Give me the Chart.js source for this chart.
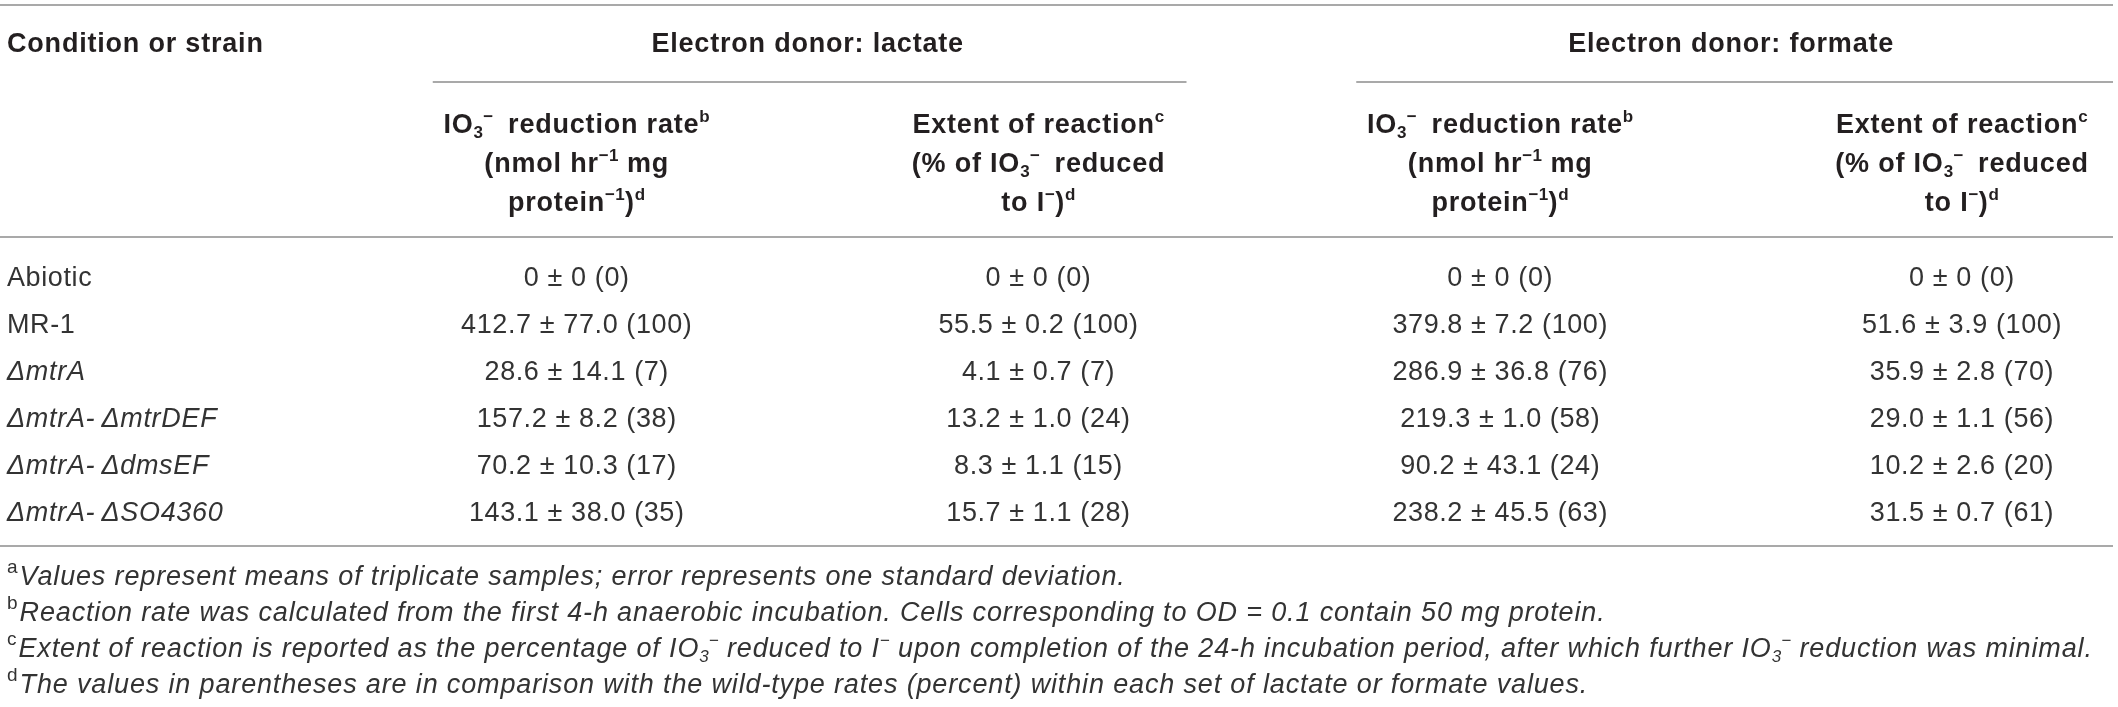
<!DOCTYPE html>
<html>
<head>
<meta charset="utf-8">
<script src="https://cdn.jsdelivr.net/npm/chart.js@4.4.1/dist/chart.umd.min.js"></script>
<style>
html,body{margin:0;padding:0;background:#fff;}
#wrap{width:2118px;height:707px;position:relative;}
</style>
</head>
<body>
<div id="wrap"><canvas id="tableChart"></canvas></div>
<script>
// rows of the table (strains), top to bottom
var strains = ['Abiotic', 'MR-1', '\u0394mtrA', '\u0394mtrA-\u2009\u0394mtrDEF', '\u0394mtrA-\u2009\u0394dmsEF', '\u0394mtrA-\u2009\u0394SO4360'];
var strainItalic = [false, false, true, true, true, true];

// column keys: first one holds the strain names
var columns = ['strain', 'lactateRate', 'lactateExtent', 'formateRate', 'formateExtent'];
var donors = ['Electron donor: lactate', 'Electron donor: formate'];

// lactate
var lactateRate = [0, 412.7, 28.6, 157.2, 70.2, 143.1];
var lactateRateSd = [0, 77.0, 14.1, 8.2, 10.3, 38.0];
var lactateRatePct = [0, 100, 7, 38, 17, 35];
var lactateExtent = [0, 55.5, 4.1, 13.2, 8.3, 15.7];
var lactateExtentSd = [0, 0.2, 0.7, 1.0, 1.1, 1.1];
var lactateExtentPct = [0, 100, 7, 24, 15, 28];

// formate
var formateRate = [0, 379.8, 286.9, 219.3, 90.2, 238.2];
var formateRateSd = [0, 7.2, 36.8, 1.0, 43.1, 45.5];
var formateRatePct = [0, 100, 76, 58, 24, 63];
var formateExtent = [0, 51.6, 35.9, 29.0, 10.2, 31.5];
var formateExtentSd = [0, 3.9, 2.8, 1.1, 2.6, 0.7];
var formateExtentPct = [0, 100, 70, 56, 20, 61];

// header text, one array of segments per line
var rateHeader = [
	[['IO', 'hb'], ['3', 'hsub'], ['\u2212', 'hsup'], ['\u2009 reduction rate', 'hb'], ['b', 'hsup']],
	[['(nmol hr', 'hb'], ['\u22121', 'hsup'], [' mg', 'hb']],
	[['protein', 'hb'], ['\u22121', 'hsup'], [')', 'hb'], ['d', 'hsup']]
];
var extentHeader = [
	[['Extent of reaction', 'hb'], ['c', 'hsup']],
	[['(% of IO', 'hb'], ['3', 'hsub'], ['\u2212', 'hsup'], ['\u2009 reduced', 'hb']],
	[['to I', 'hb'], ['\u2212', 'hsup'], [')', 'hb'], ['d', 'hsup']]
];

var footnotes = [
	[['a', 'nsup'], ['Values represent means of triplicate samples; error represents one standard deviation.', 'fi']],
	[['b', 'nsup'], ['Reaction rate was calculated from the first 4-h anaerobic incubation. Cells corresponding to OD = 0.1 contain 50 mg protein.', 'fi']],
	[['c', 'nsup'], ['Extent of reaction is reported as the percentage of IO', 'fi'], ['3', 'isub'], ['\u2212', 'isup'], [' reduced to I', 'fi'], ['\u2212', 'isup'],
		[' upon completion of the 24-h incubation period, after which further IO', 'fi'], ['3', 'isub'], ['\u2212', 'isup'], [' reduction was minimal.', 'fi']],
	[['d', 'nsup'], ['The values in parentheses are in comparison with the wild-type rates (percent) within each set of lactate or formate values.', 'fi']]
];

var FAMILY = '"Liberation Sans", Arial, Helvetica, sans-serif';
var styles = {
	hb:   {font: 'bold 27px ', dy: 0, sp: '0.8px'},
	hsup: {font: 'bold 17px ', dy: -11, sp: '0.3px'},
	hsub: {font: 'bold 17px ', dy: 5, sp: '0.3px'},
	n:    {font: '27px ', dy: 0, sp: '0.6px'},
	i:    {font: 'italic 27px ', dy: 0, sp: '0.7px'},
	fi:   {font: 'italic 27px ', dy: 0, sp: '0.85px'},
	nsup: {font: '19px ', dy: -12, sp: '0px'},
	isup: {font: 'italic 17px ', dy: -11, sp: '0px'},
	isub: {font: 'italic 17px ', dy: 5, sp: '0px'}
};

function fmt(v){
	return v === 0 ? '0' : v.toFixed(1);
}
function cellText(mean, sd, pct){
	return fmt(mean) + ' \u00b1 ' + fmt(sd) + ' (' + pct + ')';
}
function cells(means, sds, pcts){
	return means.map(function(m, i){ return cellText(m, sds[i], pcts[i]); });
}

function setStyle(ctx, kind){
	var s = styles[kind];
	ctx.font = s.font + FAMILY;
	ctx.letterSpacing = s.sp;
	return s;
}
function segWidth(ctx, segs){
	var w = 0;
	segs.forEach(function(seg){
		setStyle(ctx, seg[1]);
		w += ctx.measureText(seg[0]).width;
	});
	return w;
}
function drawSegs(ctx, segs, x, y, align){
	if (align === 'center') x -= segWidth(ctx, segs) / 2;
	segs.forEach(function(seg){
		var s = setStyle(ctx, seg[1]);
		ctx.fillText(seg[0], x, y + s.dy);
		x += ctx.measureText(seg[0]).width;
	});
}

var cellColumns = {
	lactateRate: cells(lactateRate, lactateRateSd, lactateRatePct),
	lactateExtent: cells(lactateExtent, lactateExtentSd, lactateExtentPct),
	formateRate: cells(formateRate, formateRateSd, formateRatePct),
	formateExtent: cells(formateExtent, formateExtentSd, formateExtentPct)
};

var datasets = columns.slice(1).map(function(key){
	return {
		label: key,
		data: strains.map(function(s){ return {x: key, y: s}; }),
		cells: cellColumns[key],
		pointRadius: 0,
		showLine: false
	};
});

var tablePlugin = {
	id: 'tablePlugin',
	afterDatasetsDraw: function(chart){
		var ctx = chart.ctx;
		var xs = chart.scales.x, ys = chart.scales.y;
		var right = chart.width - 5;
		var cx = columns.map(function(c, i){ return xs.getPixelForValue(i); });
		var capOff = 10;

		ctx.save();
		ctx.textAlign = 'left';
		ctx.textBaseline = 'alphabetic';

		// rules
		ctx.strokeStyle = '#8c8c8c';
		ctx.lineWidth = 1.5;
		function rule(x0, x1, y){
			ctx.beginPath();
			ctx.moveTo(x0, y);
			ctx.lineTo(x1, y);
			ctx.stroke();
		}
		rule(0, right, 5);
		rule(cx[1] - 144, cx[2] + 148, 82);
		rule(cx[3] - 144, Math.min(cx[4] + 151, right), 82);
		rule(0, right, 237);
		rule(0, right, 546);

		// header
		ctx.fillStyle = '#231f20';
		drawSegs(ctx, [['Condition or strain', 'hb']], 7, 52, 'left');
		drawSegs(ctx, [[donors[0], 'hb']], (cx[1] + cx[2]) / 2, 52, 'center');
		drawSegs(ctx, [[donors[1], 'hb']], (cx[3] + cx[4]) / 2, 52, 'center');
		[1, 2, 3, 4].forEach(function(c){
			var lines = (c % 2 === 1) ? rateHeader : extentHeader;
			lines.forEach(function(line, k){
				drawSegs(ctx, line, cx[c], 133 + k * 39, 'center');
			});
		});

		// body rows
		ctx.fillStyle = '#333333';
		strains.forEach(function(s, i){
			var y = ys.getPixelForValue(i) + capOff;
			drawSegs(ctx, [[s, strainItalic[i] ? 'i' : 'n']], 7, y, 'left');
		});
		chart.data.datasets.forEach(function(ds, d){
			var meta = chart.getDatasetMeta(d);
			meta.data.forEach(function(pt, i){
				drawSegs(ctx, [[ds.cells[i], 'n']], pt.x, pt.y + capOff, 'center');
			});
		});

		// footnotes
		footnotes.forEach(function(note, k){
			var y = 585 + k * 36;
			setStyle(ctx, 'nsup');
			drawSegs(ctx, [note[0]], 7, y, 'left');
			var x = 7 + ctx.measureText(note[0][0]).width + 2;
			drawSegs(ctx, note.slice(1), x, y, 'left');
		});
		ctx.restore();
	}
};

new Chart(document.getElementById('tableChart'), {
	type: 'scatter',
	data: {datasets: datasets},
	options: {
		responsive: true,
		maintainAspectRatio: false,
		animation: false,
		events: [],
		layout: {padding: {left: 115, right: 156, top: 276, bottom: 196}},
		plugins: {legend: {display: false}, tooltip: {enabled: false}},
		scales: {
			x: {type: 'category', labels: columns, offset: false, display: false},
			y: {type: 'category', labels: strains, offset: false, display: false}
		}
	},
	plugins: [tablePlugin]
});
</script>
</body>
</html>
